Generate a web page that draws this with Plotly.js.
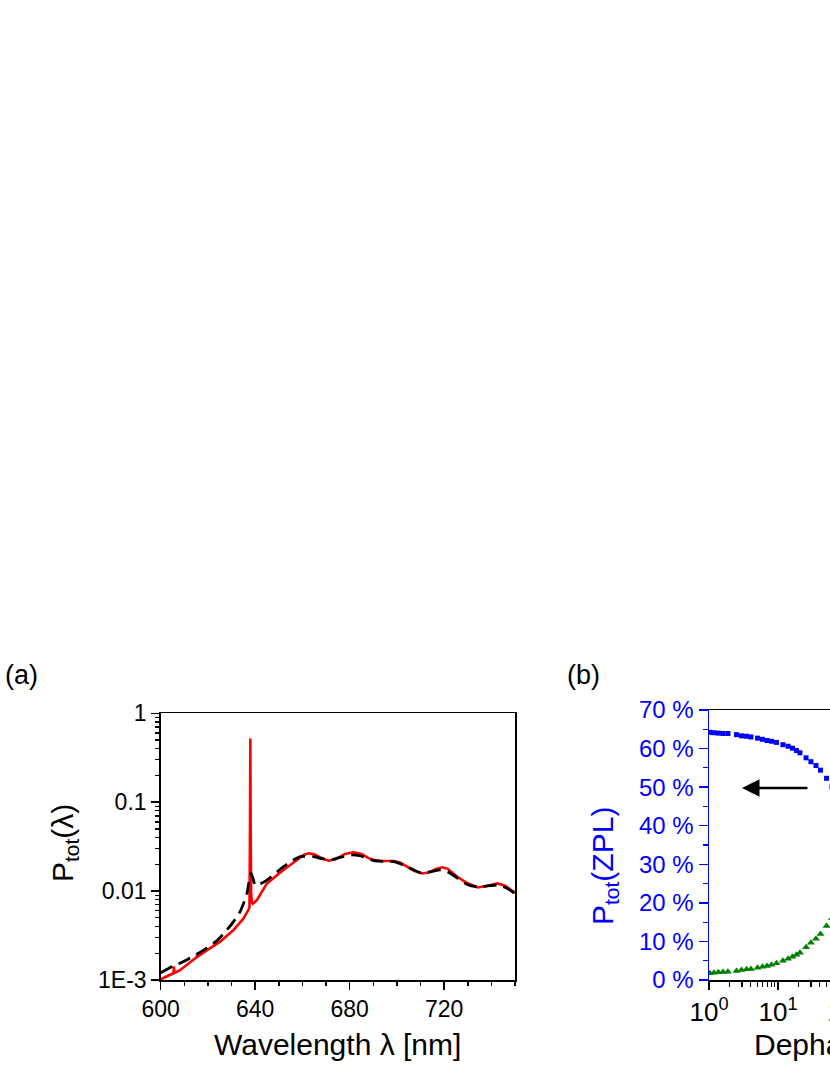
<!DOCTYPE html>
<html>
<head>
<meta charset="utf-8">
<script src="https://cdn.plot.ly/plotly-3.0.1.min.js"></script>
<style>
  html, body { margin: 0; padding: 0; background: #fff; overflow: hidden; }
  #chart { width: 1200px; height: 1075px; }
</style>
</head>
<body>
<div id="chart"></div>
<script>
// ---------- Panel (a): spectra ----------
const lambdaRed = [600, 602, 604.5, 605.4, 605.6, 605.8, 608, 612, 615.2, 615.4, 615.6, 620, 625.2, 630.8, 635, 637.2, 637.6, 637.8, 637.95, 638.1, 638.3, 638.6, 639, 640.7, 645, 652, 657.7, 660.5, 662.6, 665, 668, 671.1, 674, 678, 681.7, 685, 688, 690.2, 694, 698.7, 701.5, 704.4, 707.5, 710.7, 714, 716.5, 719.2, 721.5, 725.6, 729.5, 734.1, 738, 742.6, 746, 750];
const pRed = [0.00102, 0.00108, 0.00115, 0.00119, 0.00142, 0.0012, 0.00128, 0.00155, 0.0018, 0.0019, 0.00183, 0.0022, 0.0027, 0.00365, 0.0049, 0.0062, 0.0066, 0.05, 0.52, 0.05, 0.0095, 0.0074, 0.0072, 0.0079, 0.0122, 0.0173, 0.0224, 0.0255, 0.0266, 0.026, 0.0236, 0.022, 0.0228, 0.0262, 0.0273, 0.0262, 0.0235, 0.0224, 0.0218, 0.0218, 0.0208, 0.0188, 0.0168, 0.0158, 0.0163, 0.0177, 0.0185, 0.0178, 0.0145, 0.0124, 0.011, 0.0114, 0.0122, 0.0114, 0.0096];

const lambdaBlack = [600, 605, 611, 619.5, 624, 628, 631, 633.6, 635.5, 636.5, 637.5, 638.3, 639.2, 640, 642, 645, 652, 656, 659.1, 664.7, 668, 671.8, 676, 681.7, 686, 690.2, 694, 698.7, 704, 710, 714, 718.5, 722, 726, 730, 734.1, 738, 742.6, 746, 750];
const pBlack = [0.00121, 0.00142, 0.00168, 0.00228, 0.0028, 0.00365, 0.0046, 0.00586, 0.0078, 0.0094, 0.0132, 0.0158, 0.0135, 0.0117, 0.012, 0.0133, 0.0188, 0.0222, 0.0244, 0.0244, 0.0232, 0.0224, 0.024, 0.0255, 0.0242, 0.022, 0.0216, 0.0214, 0.019, 0.0161, 0.0165, 0.0173, 0.0162, 0.0138, 0.0118, 0.0112, 0.0114, 0.0117, 0.011, 0.0094];

const aYTickVals = [0.001, 0.01, 0.1, 1];
const aYTickText = ["1E-3", "0.01", "0.1", "1"];

// ---------- Panel (b): ZPL fraction vs dephasing ----------
const dephasing = [1.03, 1.18, 1.37, 1.6, 1.88, 2.5, 2.96, 3.5, 4.06, 5.05, 5.96, 6.93, 8.05, 9.5, 11.8, 14, 16.2, 18.5, 20.8, 25.5, 30, 35.5, 41.3, 50.5, 60.6];
const pZPLBlue = [64.2, 64.1, 64.0, 63.9, 63.9, 63.6, 63.3, 63.2, 63.0, 62.7, 62.4, 62.1, 61.9, 61.6, 61.0, 60.6, 60.1, 59.5, 58.9, 57.6, 56.6, 55.6, 54.4, 52.3, 50.1];
const pZPLGreen = [1.74, 1.9, 1.98, 2.07, 2.16, 2.33, 2.59, 2.77, 2.85, 3.2, 3.46, 3.63, 3.97, 4.32, 5.0, 5.53, 6.05, 6.57, 7.09, 8.47, 9.68, 10.7, 11.9, 14.0, 16.0];

const bXTickVals = [1, 10, 100, 1000, 10000, 100000];
const bXTickText = ["10<sup>0</sup>", "10<sup>1</sup>", "10<sup>2</sup>", "10<sup>3</sup>", "10<sup>4</sup>", "10<sup>5</sup>"];

// ---------- layout helpers (pixel -> paper) ----------
const W = 1200, H = 1075;
const px = v => v / W;
const py = v => 1 - v / H;

const FONT = "Arial, 'Liberation Sans', sans-serif";
const BLUE = "rgb(0,0,255)";

// minor tick positions for log axes (2..9 per decade)
function logMinor(d0, d1) {
  const out = [];
  for (let d = d0; d < d1; d++) for (let k = 2; k <= 9; k++) out.push(k * Math.pow(10, d));
  return out;
}

const traces = [
  { x: lambdaRed, y: pRed, xaxis: "x", yaxis: "y", type: "scatter", mode: "lines",
    line: { color: "rgb(255,0,0)", width: 2.6 }, hoverinfo: "skip", showlegend: false },
  { x: lambdaBlack, y: pBlack, xaxis: "x", yaxis: "y", type: "scatter", mode: "lines",
    line: { color: "black", width: 2.8, dash: "13px,7px", shape: "spline", smoothing: 0.6 }, hoverinfo: "skip", showlegend: false },
  { x: dephasing, y: pZPLBlue, xaxis: "x2", yaxis: "y2", type: "scatter", mode: "markers",
    marker: { symbol: "square", size: 5, color: BLUE }, hoverinfo: "skip", showlegend: false },
  { x: dephasing, y: pZPLGreen, xaxis: "x2", yaxis: "y2", type: "scatter", mode: "markers",
    marker: { symbol: "triangle-up", size: 7, color: "rgb(0,128,0)" }, hoverinfo: "skip", showlegend: false }
];

const layout = {
  width: W, height: H,
  margin: { l: 0, r: 0, t: 0, b: 0 },
  paper_bgcolor: "white", plot_bgcolor: "white",
  font: { family: FONT, color: "black" },
  xaxis: {
    domain: [px(160.7), px(515)], anchor: "y",
    range: [600, 750], tick0: 600, dtick: 40,
    ticks: "outside", ticklen: 8, tickwidth: 1.5, tickcolor: "black",
    minor: { dtick: 10, ticks: "outside", ticklen: 4, tickwidth: 1.5, tickcolor: "black" },
    showline: true, linecolor: "black", linewidth: 1.5, mirror: true,
    showgrid: false, zeroline: false,
    tickfont: { size: 23, family: FONT, color: "black" }
  },
  yaxis: {
    domain: [py(980), py(713.3)], anchor: "x",
    type: "log", range: [-3, 0],
    tickmode: "array", tickvals: aYTickVals, ticktext: aYTickText,
    ticks: "outside", ticklen: 8, tickwidth: 1.5, tickcolor: "black",
    minor: { tickmode: "array", tickvals: logMinor(-3, 0), ticks: "outside", ticklen: 4, tickwidth: 1.2, tickcolor: "black" },
    showline: true, linecolor: "black", linewidth: 1.5, mirror: true,
    showgrid: false, zeroline: false,
    tickfont: { size: 23, family: FONT, color: "black" }
  },
  xaxis2: {
    domain: [px(709), px(1054)], anchor: "y2",
    type: "log", range: [0, 5],
    tickmode: "array", tickvals: bXTickVals, ticktext: bXTickText,
    ticks: "outside", ticklen: 8, tickwidth: 1.5, tickcolor: "black",
    minor: { tickmode: "array", tickvals: logMinor(0, 5), ticks: "outside", ticklen: 5, tickwidth: 1.2, tickcolor: "black" },
    showline: true, linecolor: "black", linewidth: 1.5, mirror: true,
    showgrid: false, zeroline: false,
    tickfont: { size: 26, family: FONT, color: "black" }
  },
  yaxis2: {
    domain: [py(980), py(710)], anchor: "x2",
    range: [0, 70], tick0: 0, dtick: 10, ticksuffix: " %",
    ticks: "outside", ticklen: 9, tickwidth: 1.5, tickcolor: BLUE,
    minor: { dtick: 5, ticks: "outside", ticklen: 5, tickwidth: 1.2, tickcolor: BLUE },
    showline: true, linecolor: BLUE, linewidth: 1.5,
    showgrid: false, zeroline: false,
    tickfont: { size: 24, family: FONT, color: BLUE }
  },
  annotations: [
    { text: "(a)", xref: "paper", yref: "paper", x: px(3), y: py(675), xanchor: "left", yanchor: "middle",
      showarrow: false, font: { size: 27, family: FONT, color: "black" } },
    { text: "(b)", xref: "paper", yref: "paper", x: px(565), y: py(675), xanchor: "left", yanchor: "middle",
      showarrow: false, font: { size: 27, family: FONT, color: "black" } },
    { text: "P<sub>tot</sub>(λ)", xref: "paper", yref: "paper", x: px(64), y: py(843), xanchor: "center", yanchor: "middle",
      textangle: -90, showarrow: false, font: { size: 30, family: FONT, color: "black" } },
    { text: "Wavelength λ [nm]", xref: "paper", yref: "paper", x: px(337.5), y: py(1044), xanchor: "center", yanchor: "middle",
      showarrow: false, font: { size: 30, family: FONT, color: "black" } },
    { text: "P<sub>tot</sub>(ZPL)", xref: "paper", yref: "paper", x: px(604), y: py(866), xanchor: "center", yanchor: "middle",
      textangle: -90, showarrow: false, font: { size: 30, family: FONT, color: BLUE } },
    { text: "Dephasing rate", xref: "paper", yref: "paper", x: px(752), y: py(1044), xanchor: "left", yanchor: "middle",
      showarrow: false, font: { size: 30, family: FONT, color: "black" } },
    { text: "", xref: "paper", yref: "paper", x: px(742), y: py(788), axref: "pixel", ayref: "pixel", ax: 67, ay: 0,
      showarrow: true, arrowhead: 2, arrowsize: 1.4, arrowwidth: 2.5, arrowcolor: "black", standoff: 0 }
  ]
};

Plotly.newPlot("chart", traces, layout, { staticPlot: true, displayModeBar: false });
</script>
</body>
</html>
